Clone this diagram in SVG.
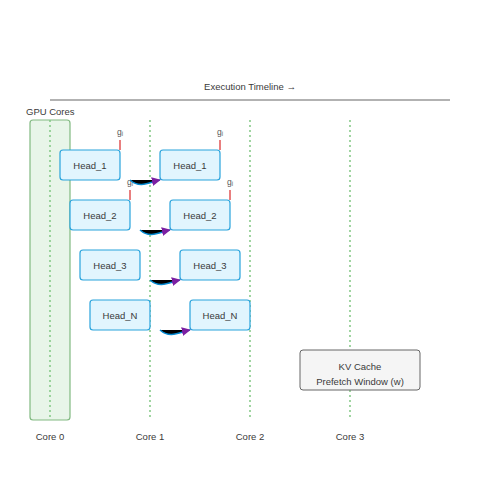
<svg xmlns="http://www.w3.org/2000/svg" width="500" height="500" viewBox="0 0 500 500">
<defs>
<marker id="ah" viewBox="0 0 10 10" refX="9" refY="5" markerWidth="6" markerHeight="6" orient="auto" markerUnits="strokeWidth">
<path d="M0,0 L10,5 L0,10 z" fill="#7b1fa2"/>
</marker>
<style>
text{font-family:"Liberation Sans",Arial,sans-serif;font-size:9.5px;fill:#3a3a3a}
.c{text-anchor:middle}
.core{stroke:#81c784;stroke-width:1.5;stroke-dasharray:2,3;fill:none}
.head rect{fill:#e1f5fe;stroke:#29a3dc;stroke-width:1.2}
.kv rect{fill:#f5f5f5;stroke:#666;stroke-width:1}
.tick{stroke:#e05555;stroke-width:1.5}
.g{font-size:8.5px;fill:#555}
.flow{stroke:#0288d1;stroke-width:1.5;fill:#000}
</style>
</defs>
<rect width="500" height="500" fill="#fff"/>
<g id="timeline">
<text class="c" x="250" y="90">Execution Timeline →</text>
<line x1="50" y1="100" x2="450" y2="100" stroke="#999" stroke-width="1.5"/>
</g>
<g id="gpu">
<text x="26" y="115">GPU Cores</text>
<rect x="30" y="120" width="40" height="300" rx="3" fill="#e8f5e9" stroke="#81b981" stroke-width="1.2"/>
</g>
<g id="cores">
<line class="core" x1="50" y1="120" x2="50" y2="420"/>
<line class="core" x1="150" y1="120" x2="150" y2="420"/>
<line class="core" x1="250" y1="120" x2="250" y2="420"/>
<line class="core" x1="350" y1="120" x2="350" y2="420"/>
<text class="c" x="50" y="440">Core 0</text>
<text class="c" x="150" y="440">Core 1</text>
<text class="c" x="250" y="440">Core 2</text>
<text class="c" x="350" y="440">Core 3</text>
</g>
<g id="ticks">
<line class="tick" x1="120" y1="140" x2="120" y2="150"/><text class="g c" x="120" y="135">gᵢ</text>
<line class="tick" x1="130" y1="190" x2="130" y2="200"/><text class="g c" x="130" y="185">gᵢ</text>
<line class="tick" x1="220" y1="140" x2="220" y2="150"/><text class="g c" x="220" y="135">gᵢ</text>
<line class="tick" x1="230" y1="190" x2="230" y2="200"/><text class="g c" x="230" y="185">gᵢ</text>
</g>
<g id="h1a" class="head"><rect x="60" y="150" width="60" height="30" rx="3"/><text class="c" x="90" y="169">Head_1</text></g>
<g id="h2a" class="head"><rect x="70" y="200" width="60" height="30" rx="3"/><text class="c" x="100" y="219">Head_2</text></g>
<g id="h3a" class="head"><rect x="80" y="250" width="60" height="30" rx="3"/><text class="c" x="110" y="269">Head_3</text></g>
<g id="hna" class="head"><rect x="90" y="300" width="60" height="30" rx="3"/><text class="c" x="120" y="319">Head_N</text></g>
<g id="h1b" class="head"><rect x="160" y="150" width="60" height="30" rx="3"/><text class="c" x="190" y="169">Head_1</text></g>
<g id="h2b" class="head"><rect x="170" y="200" width="60" height="30" rx="3"/><text class="c" x="200" y="219">Head_2</text></g>
<g id="h3b" class="head"><rect x="180" y="250" width="60" height="30" rx="3"/><text class="c" x="210" y="269">Head_3</text></g>
<g id="hnb" class="head"><rect x="190" y="300" width="60" height="30" rx="3"/><text class="c" x="220" y="319">Head_N</text></g>
<g id="kv" class="kv"><rect x="300" y="350" width="120" height="40" rx="3"/><text class="c" x="360" y="370">KV Cache</text><text class="c" x="360" y="385">Prefetch Window (w)</text></g>
<g id="connectors">
<path class="flow" d="M130,180 C140,189 150,182 160,180" marker-end="url(#ah)"/>
<path class="flow" d="M140,230 C150,239 160,232 170,230" marker-end="url(#ah)"/>
<path class="flow" d="M150,280 C160,289 170,282 180,280" marker-end="url(#ah)"/>
<path class="flow" d="M160,330 C170,339 180,332 190,330" marker-end="url(#ah)"/>
</g>
</svg>
